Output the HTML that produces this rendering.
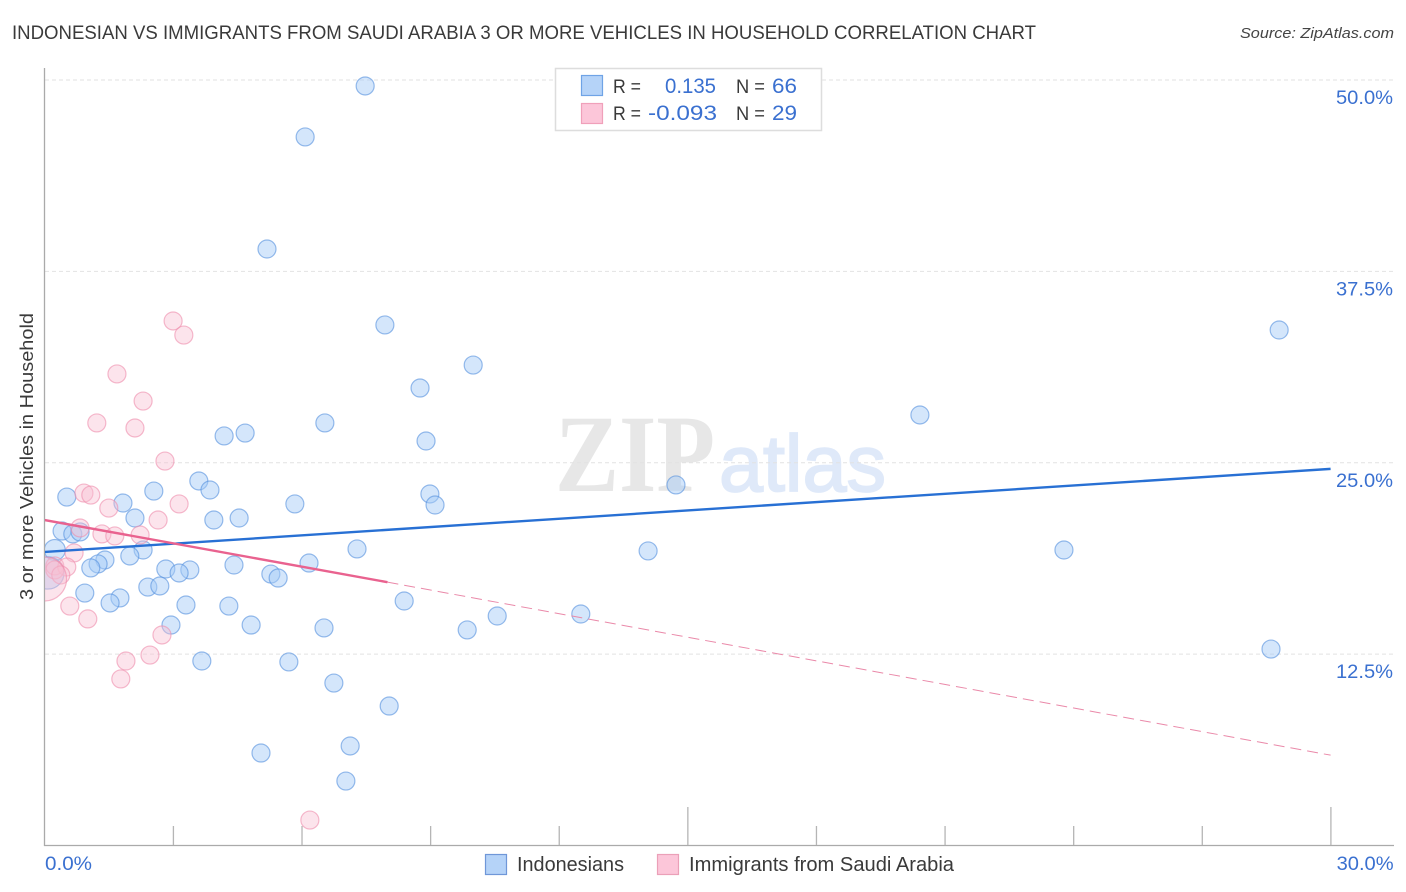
<!DOCTYPE html>
<html lang="en">
<head>
<meta charset="utf-8">
<title>Indonesian vs Immigrants from Saudi Arabia Correlation Chart</title>
<style>
html,body{margin:0;padding:0;background:#fff;}
svg{display:block;font-family:"Liberation Sans",sans-serif;}
</style>
</head>
<body>
<svg id="chart" xmlns="http://www.w3.org/2000/svg" width="1406" height="892" viewBox="0 0 1406 892">
  <defs><clipPath id="plot-clip"><rect x="45" y="60" width="1349" height="785"/></clipPath></defs>
  <rect x="0" y="0" width="1406" height="892" fill="#ffffff"/>
  <text x="12" y="39" font-size="19.5" fill="#3a3a3a" textLength="1024" lengthAdjust="spacingAndGlyphs">INDONESIAN VS IMMIGRANTS FROM SAUDI ARABIA 3 OR MORE VEHICLES IN HOUSEHOLD CORRELATION CHART</text>
  <text x="1394" y="38" font-size="15" font-style="italic" fill="#444444" text-anchor="end" textLength="154" lengthAdjust="spacingAndGlyphs">Source: ZipAtlas.com</text>
  <text transform="translate(33,600) rotate(-90)" font-size="18.5" fill="#3a3a3a" textLength="287" lengthAdjust="spacingAndGlyphs">3 or more Vehicles in Household</text>
  <g>
    <text x="555" y="491" font-family="'Liberation Serif',serif" font-size="110" font-weight="bold" fill="#e7e7e7" textLength="160" lengthAdjust="spacingAndGlyphs">ZIP</text>
    <text x="719" y="491" font-size="80" fill="#dfe9f9" stroke="#dfe9f9" stroke-width="1.8" textLength="167" lengthAdjust="spacingAndGlyphs">atlas</text>
  </g>
  <g id="grid"></g>
  <g id="axes"></g>
  <g id="points" clip-path="url(#plot-clip)"></g>
  <g id="trends" clip-path="url(#plot-clip)"></g>
  <g>
    <rect x="555.5" y="68.5" width="266" height="62" fill="#ffffff" stroke="#dddddd" stroke-width="1.5"/>
    <rect x="581.5" y="75.5" width="21" height="20" fill="#b5d3f8" stroke="#6fa3e6" stroke-width="1.2"/>
    <rect x="581.5" y="103.5" width="21" height="20" fill="#fcc6d9" stroke="#f0a0ba" stroke-width="1.2"/>
    <text x="613" y="93" font-size="19" fill="#3a3a3a" textLength="28" lengthAdjust="spacingAndGlyphs">R =</text>
    <text x="716" y="93" font-size="21" fill="#3a70d0" text-anchor="end" textLength="51" lengthAdjust="spacingAndGlyphs">0.135</text>
    <text x="736" y="93" font-size="19" fill="#3a3a3a" textLength="29" lengthAdjust="spacingAndGlyphs">N =</text>
    <text x="772" y="93" font-size="21" fill="#3a70d0" textLength="25" lengthAdjust="spacingAndGlyphs">66</text>
    <text x="613" y="120" font-size="19" fill="#3a3a3a" textLength="28" lengthAdjust="spacingAndGlyphs">R =</text>
    <text x="717" y="120" font-size="21" fill="#3a70d0" text-anchor="end" textLength="69" lengthAdjust="spacingAndGlyphs">-0.093</text>
    <text x="736" y="120" font-size="19" fill="#3a3a3a" textLength="29" lengthAdjust="spacingAndGlyphs">N =</text>
    <text x="772" y="120" font-size="21" fill="#3a70d0" textLength="25" lengthAdjust="spacingAndGlyphs">29</text>
  </g>
  <g>
    <rect x="485.5" y="854.5" width="21" height="20" fill="#b5d3f8" stroke="#6f97d8" stroke-width="1.2"/>
    <text x="517" y="871" font-size="20" fill="#3a3a3a" textLength="107" lengthAdjust="spacingAndGlyphs">Indonesians</text>
    <rect x="657.5" y="854.5" width="21" height="20" fill="#fcc6d9" stroke="#eba0b8" stroke-width="1.2"/>
    <text x="689" y="871" font-size="20" fill="#3a3a3a" textLength="265" lengthAdjust="spacingAndGlyphs">Immigrants from Saudi Arabia</text>
  </g>
</svg>
<script>
const xTickValues = [3, 6, 9, 12, 15, 18, 21, 24, 27, 30];
const xTickMajor = [15, 30];
const xEndLabels = ["0.0%", "30.0%"];
const xEndValues = [0, 30];
const yTickValues = [50, 37.5, 25, 12.5];
const yTickLabels = ["50.0%", "37.5%", "25.0%", "12.5%"];

const blueX = [7.48,6.08,5.19,7.94,10.0,8.76,6.54,4.68,4.19,8.90,28.80,20.42,14.73,3.60,3.86,2.55,0.52,1.83,5.84,8.99,9.11,2.11,3.95,4.54,0.41,0.66,0.83,0.24,2.30,7.29,14.08,23.78,1.99,1.41,1.25,1.08,4.42,6.17,2.83,3.39,3.14,5.28,5.45,2.41,2.69,0.94,1.76,1.53,3.30,4.30,8.39,12.51,10.56,2.95,4.82,6.52,9.86,28.61,3.67,5.70,6.75,8.04,7.13,5.05,7.03,0.08];
const blueY = [49.61,46.28,38.96,34.0,31.38,29.88,27.6,26.94,26.75,26.42,33.67,28.12,23.55,23.81,23.22,23.15,22.76,22.37,22.31,22.96,22.24,21.39,21.26,21.39,20.54,20.35,20.48,19.30,19.30,19.37,19.24,19.30,18.91,18.65,18.39,18.13,18.32,18.45,18.06,18.0,17.8,17.73,17.47,16.88,16.95,16.49,16.17,15.84,15.71,15.64,15.97,15.12,14.99,14.40,14.40,14.21,14.08,12.83,12.05,11.99,10.61,9.11,6.50,6.04,4.21,17.8];
const blueWeight = [1,1,1,1,1,1,1,1,1,1,1,1,1,1,1,1,1,1,1,1,1,1,1,1,1,1,1,1.36,1,1,1,1,1,1,1,1,1,1,1,1,1,1,1,1,1,1,1,1,1,1,1,1,1,1,1,1,1,1,1,1,1,1,1,1,1,3.2];

const pinkX = [3.00,3.25,1.69,2.30,1.22,2.11,2.81,0.92,1.08,1.50,3.14,2.65,0.83,1.34,1.64,2.23,0.69,0.24,0.52,0.24,0.38,0.0,0.59,1.01,2.74,2.46,1.90,1.78,6.19];
const pinkY = [34.26,33.34,30.80,29.03,27.60,27.27,25.11,23.02,22.89,22.04,22.31,21.26,20.74,20.35,20.22,20.28,19.11,18.26,18.19,18.0,17.67,17.41,15.64,14.8,13.75,12.44,12.05,10.88,1.66];
const pinkWeight = [1,1,1,1,1,1,1,1,1,1,1,1,1,1,1,1,1,1,1,1,1,6,1,1,1,1,1,1,1];

const blueTrendX = [0, 30];
const blueTrendY = [19.17, 24.6];
const pinkSolidX = [0, 8];
const pinkSolidY = [21.26, 17.2];
const pinkDashX = [8, 30];
const pinkDashY = [17.2, 5.9];

const NS = "http://www.w3.org/2000/svg";
function xScale(v) { return 44.5 + v * 42.87; }
function yScale(v) { return 80 + (50 - v) * 15.31; }
function rScale(w) { return 9 * Math.sqrt(w); }
function make(tag, parent, attrs) {
  const el = document.createElementNS(NS, tag);
  for (const k in attrs) el.setAttribute(k, attrs[k]);
  parent.appendChild(el);
  return el;
}

const grid = document.getElementById("grid");
const axes = document.getElementById("axes");
const pointsGroup = document.getElementById("points");
const trends = document.getElementById("trends");

yTickValues.forEach(function (v, i) {
  const line = make("line", grid, {x1: 45, x2: 1394, y1: yScale(v), y2: yScale(v), stroke: "#e2e2e2", "stroke-width": 1, "stroke-dasharray": "4 3"});
  
  
  const label = make("text", axes, {x: 1393, y: yScale(v) + 24, "font-size": 19, fill: "#3a70d0", "text-anchor": "end", textLength: 57, lengthAdjust: "spacingAndGlyphs"});
  
  
  label.textContent = yTickLabels[i];
});

const yAxis = make("line", axes, {x1: 44.5, x2: 44.5, y1: 68, y2: 846, stroke: "#aaaaaa", "stroke-width": 1.3});


const xAxis = make("line", axes, {x1: 44, x2: 1394, y1: 845.5, y2: 845.5, stroke: "#aaaaaa", "stroke-width": 1.3});



xTickValues.forEach(function (v) {
  const top = xTickMajor.indexOf(v) >= 0 ? 807 : 826;
  const tick = make("line", axes, {x1: xScale(v) + 0.3, x2: xScale(v) + 0.3, y1: top, y2: 845, stroke: "#b5b5b5", "stroke-width": 1.3});
  
  
});

xEndValues.forEach(function (v, i) {
  const isFirst = i === 0;
  const label = make("text", axes, {x: isFirst ? xScale(v) + 0.5 : xScale(v) + 63, y: 870, "font-size": 19, fill: "#3a70d0", "text-anchor": isFirst ? "start" : "end", textLength: isFirst ? 47 : 57, lengthAdjust: "spacingAndGlyphs"});
  
  
  label.textContent = xEndLabels[i];
});

blueX.forEach(function (v, i) {
  const c = make("circle", pointsGroup, {cx: xScale(v), cy: yScale(blueY[i]), r: rScale(blueWeight[i]), fill: "rgba(165,203,246,0.48)", stroke: "rgba(84,143,222,0.6)", "stroke-width": 1.2});
  
  
});
pinkX.forEach(function (v, i) {
  const c = make("circle", pointsGroup, {cx: xScale(v), cy: yScale(pinkY[i]), r: rScale(pinkWeight[i]), fill: "rgba(249,190,210,0.42)", stroke: "rgba(238,140,172,0.6)", "stroke-width": 1.2});
  
  
});

const blueLine = make("line", trends, {x1: xScale(blueTrendX[0]), y1: yScale(blueTrendY[0]), x2: xScale(blueTrendX[1]), y2: yScale(blueTrendY[1]), stroke: "#2870d4", "stroke-width": 2.4});


const pinkLine = make("line", trends, {x1: xScale(pinkSolidX[0]), y1: yScale(pinkSolidY[0]), x2: xScale(pinkSolidX[1]), y2: yScale(pinkSolidY[1]), stroke: "#e9628f", "stroke-width": 2.4});


const pinkDash = make("line", trends, {x1: xScale(pinkDashX[0]), y1: yScale(pinkDashY[0]), x2: xScale(pinkDashX[1]), y2: yScale(pinkDashY[1]), stroke: "#ea89a9", "stroke-width": 1, "stroke-dasharray": "11 6"});


</script>
</body>
</html>
